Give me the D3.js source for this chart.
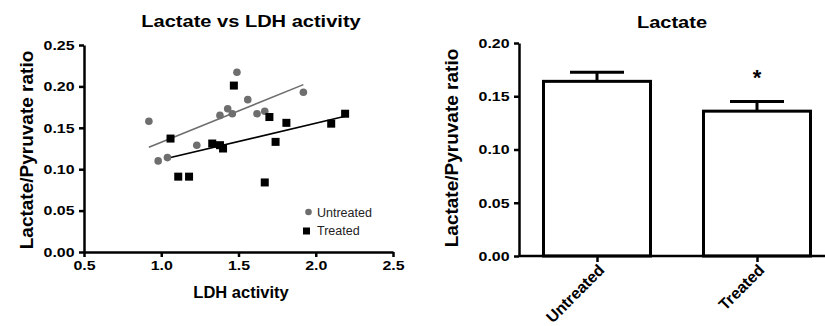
<!DOCTYPE html>
<html lang="en">
<head>
  <meta charset="UTF-8" />
  <title>Lactate</title>
  <script src="https://cdn.jsdelivr.net/npm/d3@7"></script>
  <style>
    body { margin: 0; background: #fff; }
    svg { font-family: "Liberation Sans", Arial, sans-serif; display: block; }
    .axis path, .axis line { stroke: #000; stroke-width: 2.5; }
  </style>
</head>
<body>
<script>
  // scatter data
  const untreatedLDH   = [0.92, 0.98, 1.04, 1.23, 1.38, 1.43, 1.46, 1.49, 1.56, 1.62, 1.67, 1.92];
  const untreatedRatio = [0.158, 0.110, 0.114, 0.129, 0.165, 0.173, 0.167, 0.217, 0.184, 0.167, 0.170, 0.193];
  const treatedLDH     = [1.06, 1.11, 1.18, 1.33, 1.38, 1.40, 1.47, 1.67, 1.70, 1.74, 1.81, 2.10, 2.19];
  const treatedRatio   = [0.137, 0.091, 0.091, 0.131, 0.129, 0.125, 0.201, 0.084, 0.163, 0.133, 0.156, 0.155, 0.167];

  // bar data
  const groups = ["Untreated", "Treated"];
  const groupMean = [0.164, 0.136];
  const groupSEM = [0.0085, 0.009];

  // tick labels
  const scatterXTicks = [0.5, 1.0, 1.5, 2.0, 2.5];
  const scatterYTicks = [0, 0.05, 0.10, 0.15, 0.20, 0.25];
  const barYTicks = [0, 0.05, 0.10, 0.15, 0.20];

  const width = 825;
  const height = 326;
  const stretch = "scale(1.18,1)"; // horizontal text in the picture is a bit wide

  const svg = d3.select("body").append("svg")
      .attr("width", width)
      .attr("height", height);

  // least squares fit, drawn from min x to max x
  function fit(xs, ys) {
    const mx = d3.mean(xs), my = d3.mean(ys);
    const sxy = d3.sum(xs, (x, i) => (x - mx) * (ys[i] - my));
    const sxx = d3.sum(xs, x => (x - mx) * (x - mx));
    const b = sxy / sxx, a = my - b * mx;
    const x0 = d3.min(xs), x1 = d3.max(xs);
    return [[x0, a + b * x0], [x1, a + b * x1]];
  }

  // bold tick labels, a bit wide
  function tickText(sel) {
    sel.selectAll(".tick text")
      .style("font-size", "13.5px")
      .style("font-weight", "bold")
      .attr("fill", "#000")
      .attr("transform", stretch);
  }

  // ---------- left: scatter ----------
  const x = d3.scaleLinear().domain([0.5, 2.5]).range([84, 393]);
  const y = d3.scaleLinear().domain([0, 0.25]).range([252, 45]);

  const left = svg.append("g");

  left.append("g").attr("class", "axis")
      .attr("transform", "translate(0,252)")
      .call(d3.axisBottom(x).tickValues(scatterXTicks).tickFormat(d3.format(".1f"))
        .tickSize(5).tickSizeOuter(0).tickPadding(3))
      .call(tickText);

  left.append("g").attr("class", "axis")
      .attr("transform", "translate(84,0)")
      .call(d3.axisLeft(y).tickValues(scatterYTicks).tickFormat(d3.format(".2f"))
        .tickSize(5).tickSizeOuter(0).tickPadding(3))
      .call(tickText);

  const line = d3.line().x(d => x(d[0])).y(d => y(d[1]));

  left.append("path")
      .attr("d", line(fit(untreatedLDH, untreatedRatio)))
      .attr("stroke", "#6e6e6e").attr("stroke-width", 1.6).attr("fill", "none");
  left.append("path")
      .attr("d", line(fit(treatedLDH, treatedRatio)))
      .attr("stroke", "#000").attr("stroke-width", 1.6).attr("fill", "none");

  left.selectAll("circle.pt")
    .data(untreatedLDH.map((v, i) => [v, untreatedRatio[i]]))
    .join("circle")
      .attr("class", "pt")
      .attr("cx", d => x(d[0]))
      .attr("cy", d => y(d[1]))
      .attr("r", 3.8)
      .attr("fill", "#6e6e6e");

  left.selectAll("rect.pt")
    .data(treatedLDH.map((v, i) => [v, treatedRatio[i]]))
    .join("rect")
      .attr("class", "pt")
      .attr("x", d => x(d[0]) - 4)
      .attr("y", d => y(d[1]) - 4)
      .attr("width", 8)
      .attr("height", 8)
      .attr("fill", "#000");

  // legend
  left.append("circle").attr("cx", 308.5).attr("cy", 212).attr("r", 3.3).attr("fill", "#6e6e6e");
  left.append("text").attr("x", 317).attr("y", 216.5)
      .attr("font-size", 12.5).attr("fill", "#222").text("Untreated");
  left.append("rect").attr("x", 303).attr("y", 227.5).attr("width", 7).attr("height", 7).attr("fill", "#000");
  left.append("text").attr("x", 317).attr("y", 235)
      .attr("font-size", 12.5).attr("fill", "#222").text("Treated");

  // titles
  left.append("text")
      .attr("transform", "translate(251,27) " + stretch)
      .attr("text-anchor", "middle").attr("font-size", 17).attr("font-weight", "bold")
      .text("Lactate vs LDH activity");
  left.append("text")
      .attr("x", 241).attr("y", 298)
      .attr("text-anchor", "middle").attr("font-size", 16.5).attr("font-weight", "bold")
      .text("LDH activity");
  left.append("text")
      .attr("transform", "translate(33,150) rotate(-90)")
      .attr("text-anchor", "middle").attr("font-size", 19).attr("font-weight", "bold")
      .text("Lactate/Pyruvate ratio");

  // ---------- right: bars ----------
  const bx = d3.scalePoint().domain(groups).range([517, 837]).padding(0.5);
  const by = d3.scaleLinear().domain([0, 0.2]).range([256, 43]);
  const barW = 107;

  const right = svg.append("g");

  right.selectAll("rect.bar")
    .data(groups)
    .join("rect")
      .attr("class", "bar")
      .attr("x", d => bx(d) - barW / 2)
      .attr("y", (d, i) => by(groupMean[i]))
      .attr("width", barW)
      .attr("height", (d, i) => by(0) - by(groupMean[i]))
      .attr("fill", "#fff")
      .attr("stroke", "#000")
      .attr("stroke-width", 3);

  // error bars (upper only)
  right.selectAll("line.err")
    .data(groups)
    .join("line")
      .attr("class", "err")
      .attr("x1", d => bx(d)).attr("x2", d => bx(d))
      .attr("y1", (d, i) => by(groupMean[i]))
      .attr("y2", (d, i) => by(groupMean[i] + groupSEM[i]))
      .attr("stroke", "#000").attr("stroke-width", 3);
  right.selectAll("line.cap")
    .data(groups)
    .join("line")
      .attr("class", "cap")
      .attr("x1", d => bx(d) - 27).attr("x2", d => bx(d) + 27)
      .attr("y1", (d, i) => by(groupMean[i] + groupSEM[i]))
      .attr("y2", (d, i) => by(groupMean[i] + groupSEM[i]))
      .attr("stroke", "#000").attr("stroke-width", 3);

  const xAxisG = right.append("g").attr("class", "axis")
      .attr("transform", "translate(0,256)")
      .call(d3.axisBottom(bx).tickSize(6).tickSizeOuter(0).tickPadding(4));
  xAxisG.select(".domain").attr("d", "M519,0H825");
  xAxisG.selectAll(".tick text")
      .style("font-size", "16px")
      .style("font-weight", "bold")
      .attr("fill", "#000")
      .attr("text-anchor", "end")
      .attr("dy", "0.35em")
      .attr("transform", "translate(-3,4) rotate(-45)");

  right.append("g").attr("class", "axis")
      .attr("transform", "translate(519,0)")
      .call(d3.axisLeft(by).tickValues(barYTicks).tickFormat(d3.format(".2f"))
        .tickSize(5).tickSizeOuter(0).tickPadding(3))
      .call(tickText);

  // significance star
  right.append("text")
      .attr("x", bx("Treated")).attr("y", 85)
      .attr("text-anchor", "middle").attr("font-size", 22).attr("font-weight", "bold")
      .text("*");

  right.append("text")
      .attr("transform", "translate(672,28) " + stretch)
      .attr("text-anchor", "middle").attr("font-size", 17).attr("font-weight", "bold")
      .text("Lactate");
  right.append("text")
      .attr("transform", "translate(458,148) rotate(-90)")
      .attr("text-anchor", "middle").attr("font-size", 19).attr("font-weight", "bold")
      .text("Lactate/Pyruvate ratio");
</script>
</body>
</html>
